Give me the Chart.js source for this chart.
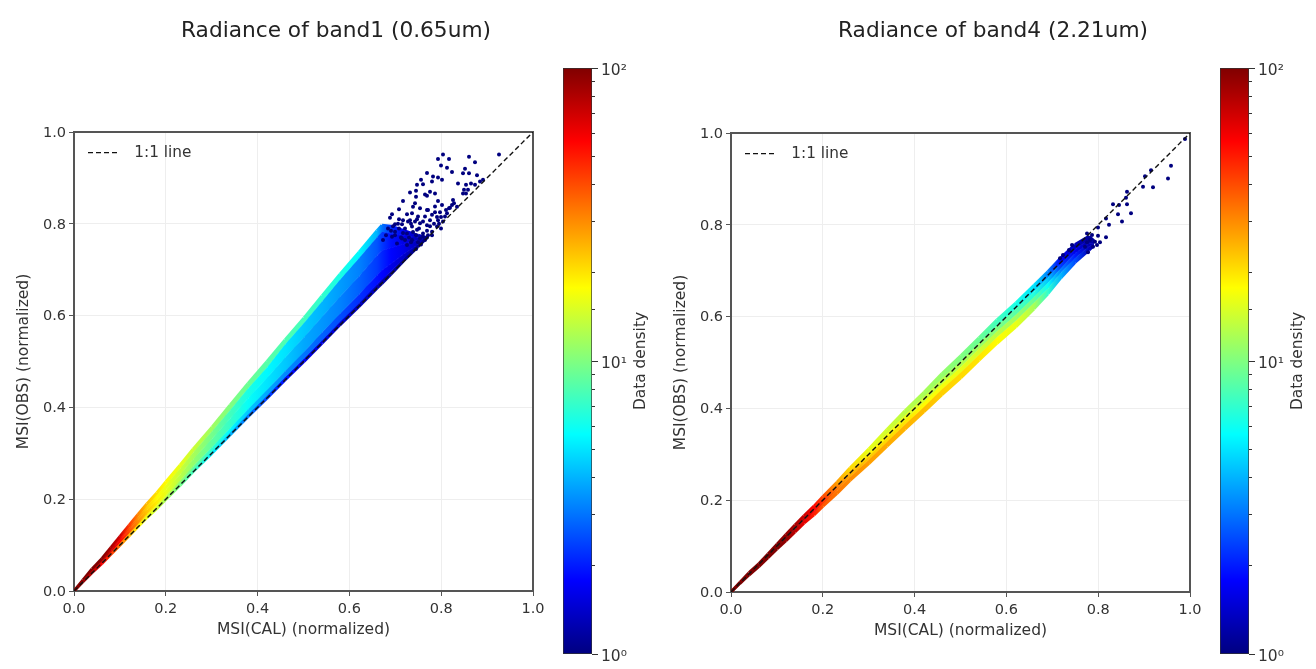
<!DOCTYPE html>
<html>
<head>
<meta charset="utf-8">
<title>MSI radiance scatter</title>
<script src="https://cdn.jsdelivr.net/npm/chart.js@4/dist/chart.umd.min.js"></script>
<style>
  html, body { margin: 0; padding: 0; background: #fff; overflow: hidden; }
  #page { position: relative; width: 1316px; height: 669px; }
  .box { position: absolute; }
</style>
</head>
<body>
<div id="page">
  <div class="box" style="left:0;top:0;width:672px;height:669px"><canvas id="band1"></canvas></div>
  <div class="box" style="left:670px;top:0;width:646px;height:669px"><canvas id="band4"></canvas></div>
  <div class="box" style="left:556px;top:50px;width:100px;height:620px"><canvas id="bar1"></canvas></div>
  <div class="box" style="left:1213px;top:50px;width:100px;height:620px"><canvas id="bar4"></canvas></div>
</div>
<script>
const axisTicks = [0, 0.2, 0.4, 0.6, 0.8, 1];
const barMajorTicks = [1, 10, 100];
const barTickLabels = ['10\u2070', '10\u00b9', '10\u00b2'];
const oneToOne = [{ x: 0, y: 0 }, { x: 1, y: 1 }];

// band1: dense part of the cloud, read as edges from the 1:1 side upward
const band1X = [0, .02, .04, .06, .08, .10, .12, .14, .16, .18, .20, .23, .26, .30, .34, .38, .42, .46, .50, .54, .58, .62, .66, .67, .69, .72, .75, .77];
const band1Edge0 = [0, .02, .04, .06, .08, .10, .12, .14, .16, .18, .20, .23, .26, .30, .34, .38, .42, .46, .50, .54, .58, .62, .66, .67, .69, .72, .75, .77];
const band1Edge1 = [0, .020, .040, .061, .081, .101, .121, .142, .162, .182, .202, .233, .263, .303, .344, .384, .425, .465, .506, .546, .586, .627, .667, .678, .696, .724, .752, .77];
const band1Edge2 = [0, .021, .042, .063, .083, .104, .125, .146, .167, .188, .208, .240, .271, .313, .354, .396, .438, .479, .521, .563, .604, .646, .688, .699, .713, .734, .755, .77];
const band1Edge3 = [0, .022, .044, .066, .088, .111, .133, .155, .177, .199, .221, .254, .287, .332, .376, .420, .464, .508, .553, .597, .641, .685, .731, .742, .748, .756, .764, .77];
const band1Edge4 = [0, .023, .046, .070, .093, .116, .139, .162, .186, .209, .232, .267, .302, .348, .394, .441, .487, .537, .584, .631, .678, .725, .771, .783, .779, .775, .771, .77];
const band1Edge5 = [0, .024, .048, .071, .095, .119, .143, .167, .190, .214, .238, .274, .309, .357, .405, .452, .500, .547, .595, .643, .690, .738, .785, .797, .795, .785, .775, .77];
// data density of each strip between two edges, one value per step along x
const band1Lane0 = [100, 91, 76, 58, 44, 33, 25, 19, 16, 14, 12, 9.5, 7.6, 5.2, 4, 3, 2.4, 1.9, 1.6, 1.5, 1.4, 1.3, 1.25, 1.2, 1.15, 1.1, 1.05];
const band1Lane1 = [100, 100, 91, 70, 56, 44, 33, 25, 19, 16, 14, 11, 9.1, 7, 5.5, 4.4, 3.8, 3.3, 3, 2.75, 2.5, 2.2, 1.9, 1.8, 1.6, 1.4, 1.2];
const band1Lane2 = [100, 100, 100, 87, 70, 56, 40, 30, 23, 19, 16, 13, 11, 8.7, 7.2, 5.8, 5, 4.4, 3.8, 3.5, 3.2, 2.75, 2.3, 2.1, 1.8, 1.6, 1.3];
const band1Lane3 = [100, 100, 100, 91, 76, 60, 40, 29, 22, 18, 16, 14, 12, 9.5, 7.6, 6.3, 5.5, 5, 4.4, 4, 3.6, 3.2, 2.6, 2.3, 1.9, 1.6, 1.3];
const band1Lane4 = [100, 100, 100, 100, 83, 70, 44, 31, 24, 20, 18, 16, 14, 11.5, 10, 9.1, 8.3, 8, 7.6, 7, 6.3, 5.5, 4, 3, 2.2, 1.7, 1.3];
// band1: single dots above the dense part
const band1SparseX = [.805, .794, .817, .860, .874, .927, .799, .812, .824, .770, .852, .847, .861, .877, .757, .748, .783, .792, .801, .779, .761, .837, .854, .866, .892, .885, .874, .850, .859, .848, .855, .733, .745, .776, .786, .770, .765, .745, .717, .743, .794, .826, .801, .823, .834, .816, .739, .754, .707, .692, .688, .725, .736, .770, .786, .797, .812, .717, .732, .750, .765, .776, .794, .808, .699, .714, .736, .754, .768, .790, .805, .685, .699, .725, .747, .761, .779, .692, .714, .736, .754, .768, .674, .703, .725, .750,
  .680, .690, .700, .708, .716, .722, .730, .738, .745, .752, .760, .768, .772, .780, .785, .795, .800, .810, .820, .828, .742, .727, .708, .760, .780, .800, .712, .735, .755, .745, .765, .775, .790, .705, .695, .722, .735, .748, .772, .786];
const band1SparseY = [.951, .941, .941, .946, .934, .951, .927, .922, .913, .911, .920, .910, .910, .906, .896, .885, .903, .901, .896, .892, .886, .888, .885, .888, .896, .892, .885, .874, .874, .866, .866, .868, .872, .870, .866, .861, .864, .859, .850, .845, .850, .852, .841, .841, .837, .834, .837, .834, .832, .821, .813, .821, .823, .830, .825, .825, .823, .808, .808, .816, .816, .808, .808, .816, .799, .799, .794, .801, .797, .794, .805, .790, .783, .779, .787, .779, .783, .772, .768, .765, .768, .770, .765, .757, .754, .760,
  .775, .785, .775, .790, .780, .790, .770, .782, .775, .790, .772, .785, .775, .775, .800, .800, .815, .830, .835, .845, .805, .805, .810, .805, .820, .790, .770, .760, .755, .745, .765, .795, .815, .800, .795, .765, .800, .810, .830, .838];

// band4
const band4X = [0, .02, .04, .06, .08, .10, .12, .14, .16, .18, .20, .23, .26, .30, .34, .38, .42, .46, .50, .54, .58, .62, .66, .69, .72, .75, .78, .79];
const band4Edge0 = [0, .019, .037, .056, .075, .094, .112, .131, .150, .168, .187, .215, .243, .280, .318, .355, .393, .430, .467, .505, .542, .578, .617, .650, .685, .718, .745, .755];
const band4Edge1 = [0, .019, .039, .058, .077, .096, .115, .135, .154, .173, .192, .221, .250, .288, .327, .365, .403, .442, .479, .517, .555, .591, .630, .662, .696, .728, .753, .758];
const band4Edge2 = [0, .020, .040, .059, .079, .099, .119, .138, .158, .178, .198, .227, .257, .296, .336, .375, .414, .453, .491, .530, .568, .604, .643, .674, .706, .738, .760, .760];
const band4Edge3 = [0, .020, .041, .061, .081, .101, .122, .142, .162, .183, .203, .233, .263, .304, .345, .385, .425, .465, .503, .542, .580, .617, .655, .686, .717, .747, .768, .763];
const band4Edge4 = [0, .021, .042, .062, .083, .104, .125, .146, .166, .187, .208, .239, .270, .312, .354, .395, .435, .476, .515, .554, .593, .630, .668, .698, .728, .757, .775, .765];
const band4Lane0 = [100, 100, 100, 100, 100, 100, 91, 76, 63, 50, 38, 33, 30, 27.5, 26, 25, 24, 22, 21, 20, 18, 16, 12, 7, 4, 2.5, 1.3];
const band4Lane1 = [100, 100, 100, 100, 100, 100, 100, 87, 70, 58, 44, 33, 26, 23, 21, 20, 18, 17, 16, 14.5, 13, 11.5, 9, 5.8, 3.2, 2, 1.25];
const band4Lane2 = [100, 100, 100, 100, 100, 100, 100, 91, 76, 60, 48, 32, 25, 19, 17.4, 16, 14.5, 13, 12.6, 11.5, 10, 8.3, 6.6, 4.4, 2.3, 1.6, 1.2];
const band4Lane3 = [100, 100, 100, 100, 100, 100, 91, 83, 70, 55, 40, 27.5, 21, 16, 14.5, 13, 12, 11, 10, 9.1, 7.6, 6.3, 5, 3.2, 1.7, 1.3, 1.15];
const band4SparseX = [.990, .958, .915, .903, .951, .898, .920, .863, .861, .833, .845, .862, .844, .871, .818, .824, .851, .799, .776, .786, .799, .816, .782, .793, .804, .776, .744, .771, .789, .797, .778, .737, .724, .717];
const band4SparseY = [.987, .929, .919, .906, .901, .883, .882, .872, .859, .845, .843, .845, .823, .825, .814, .800, .807, .794, .781, .778, .776, .773, .767, .763, .762, .762, .756, .752, .752, .756, .740, .745, .734, .727];

const textColor = '#333';
const frameColor = '#555';
const dotColor = '#00007f';
const fontName = '"DejaVu Sans"';

// matplotlib jet, fed with a 1..100 density on a log scale
function jet(density) {
  const t = Math.log10(density) / 2;
  const part = v => Math.round(255 * Math.min(1, Math.max(0, v)));
  return `rgb(${part(1.5 - Math.abs(4 * t - 3))},${part(1.5 - Math.abs(4 * t - 2))},${part(1.5 - Math.abs(4 * t - 1))})`;
}

function zipPoints(xs, ys) {
  return xs.map((x, i) => ({ x: x, y: ys[i] }));
}

// colour of one step of a strip, running from this station's density to the next one
function stepGradient(c, lane) {
  const i = c.p0DataIndex;
  const next = lane[i + 1] === undefined ? lane[i] : lane[i + 1];
  const g = c.chart.ctx.createLinearGradient(c.p0.x, 0, c.p1.x, 0);
  g.addColorStop(0, jet(lane[i]));
  g.addColorStop(1, jet(next));
  return g;
}

function laneDatasets(xs, edges, lanes) {
  return edges.map((edge, i) => {
    const lane = lanes[i] || lanes[i - 1];
    return {
      label: 'lane' + i,
      data: zipPoints(xs, edge),
      pointRadius: 0,
      borderWidth: (i === 0 || i === edges.length - 1) ? 3 : 1,
      fill: lanes[i] ? '+1' : false,
      segment: {
        backgroundColor: c => stepGradient(c, lane),
        borderColor: c => stepGradient(c, lane)
      }
    };
  });
}

// the filler clips every step to its x range, whole pixels keep the joins from showing
const snapStations = {
  id: 'snapStations',
  afterDatasetsUpdate(chart) {
    chart.getSortedVisibleDatasetMetas().forEach(meta => {
      meta.data.forEach(pt => { pt.x = Math.round(pt.x); });
    });
  }
};

function drawPanel(id, titleText, plotLeft, plotRight, plotBottom, yTitlePad, xs, edges, lanes, sparseX, sparseY) {
  const plotTop = plotBottom - 459;
  new Chart(document.getElementById(id), {
    type: 'line',
    data: {
      datasets: [
        { label: '1:1 line', data: oneToOne, borderColor: '#111', borderWidth: 1.4, borderDash: [5, 3], pointRadius: 0, fill: false },
        { label: 'sparse', data: zipPoints(sparseX, sparseY), showLine: false, pointRadius: 2, pointBorderWidth: 0, pointBackgroundColor: dotColor }
      ].concat(laneDatasets(xs, edges, lanes))
    },
    options: {
      responsive: true,
      maintainAspectRatio: false,
      animation: false,
      plugins: {
        title: {
          display: true,
          text: titleText,
          color: '#222',
          font: { family: fontName, size: 21.7, weight: 'normal', lineHeight: 1.2 },
          padding: { top: 18, bottom: plotTop - 18 - 26 }
        },
        legend: {
          position: 'chartArea',
          align: 'start',
          // the empty title only pushes the entry down into the plot
          title: { display: true, text: '', font: { size: 10, lineHeight: 1 }, padding: { top: 0, bottom: plotTop - 11 } },
          labels: {
            generateLabels: () => [{ text: '  1:1 line', strokeStyle: '#111', lineDash: [5, 3], lineWidth: 1.4, pointStyle: 'line', fillStyle: 'transparent', fontColor: textColor, datasetIndex: 0 }],
            usePointStyle: true,
            pointStyleWidth: 29,
            padding: 14,
            font: { family: fontName, size: 15.3 }
          }
        },
        tooltip: { enabled: false }
      },
      scales: {
        x: {
          type: 'linear',
          min: 0,
          max: 1,
          afterBuildTicks: scale => { scale.ticks = axisTicks.map(v => ({ value: v })); },
          afterFit: scale => { scale.height = 669 - plotBottom; },
          ticks: { color: textColor, padding: 5, maxRotation: 0, font: { family: fontName, size: 14.5 }, callback: v => v.toFixed(1) },
          grid: { color: '#eee', tickColor: frameColor, tickLength: 5 },
          border: { color: frameColor, width: 2 },
          title: { display: true, text: 'MSI(CAL) (normalized)', color: textColor, font: { family: fontName, size: 15.5 }, padding: { top: 0, bottom: 669 - plotBottom - 48 } }
        },
        y: {
          min: 0,
          max: 1,
          afterBuildTicks: scale => { scale.ticks = axisTicks.map(v => ({ value: v })); },
          afterFit: scale => { scale.width = plotLeft; },
          ticks: { color: textColor, padding: 3, labelOffset: 1, font: { family: fontName, size: 14.5 }, callback: v => v.toFixed(1) },
          grid: { color: '#eee', tickColor: frameColor, tickLength: 5 },
          border: { color: frameColor, width: 2 },
          title: { display: true, text: 'MSI(OBS) (normalized)', color: textColor, font: { family: fontName, size: 15.5 }, padding: { top: yTitlePad, bottom: 0 } }
        },
        // only there for the top and right spines
        xTop: {
          type: 'linear',
          position: 'top',
          afterFit: scale => { scale.height = 0; },
          ticks: { display: false },
          grid: { display: false },
          border: { color: frameColor, width: 2 }
        },
        yRight: {
          position: 'right',
          afterFit: scale => { scale.width = plotRight; },
          ticks: { display: false },
          grid: { display: false },
          border: { color: frameColor, width: 2 }
        }
      }
    },
    plugins: [snapStations]
  });
}

const densityLabel = {
  id: 'densityLabel',
  afterDraw(chart) {
    const ctx = chart.ctx;
    const area = chart.chartArea;
    ctx.save();
    ctx.translate(area.right + 49, (area.top + area.bottom) / 2);
    ctx.rotate(-Math.PI / 2);
    ctx.fillStyle = textColor;
    ctx.font = '15.4px ' + fontName;
    ctx.textAlign = 'center';
    ctx.textBaseline = 'middle';
    ctx.fillText('Data density', 0, 0);
    ctx.restore();
  }
};

function jetGradient(context) {
  const area = context.chart.chartArea;
  if (!area) return '#000';
  const g = context.chart.ctx.createLinearGradient(0, area.bottom, 0, area.top);
  for (let i = 0; i <= 32; i++) {
    g.addColorStop(i / 32, jet(Math.pow(100, i / 32)));
  }
  return g;
}

function drawColorbar(id) {
  new Chart(document.getElementById(id), {
    type: 'bar',
    data: {
      labels: ['density'],
      datasets: [{ data: [[1, 100]], backgroundColor: jetGradient, borderColor: '#333', borderWidth: 1, borderSkipped: false, barPercentage: 1, categoryPercentage: 1 }]
    },
    options: {
      responsive: true,
      maintainAspectRatio: false,
      animation: false,
      layout: { padding: { left: 7, top: 18, bottom: 16 } },
      plugins: { legend: { display: false }, tooltip: { enabled: false } },
      scales: {
        x: { display: false },
        yMinor: {
          type: 'logarithmic',
          position: 'right',
          min: 1,
          max: 100,
          afterFit: scale => { scale.width = 0; },
          ticks: { display: false },
          grid: { drawOnChartArea: false, tickColor: '#333', tickLength: 3 },
          border: { display: false }
        },
        y: {
          type: 'logarithmic',
          position: 'right',
          min: 1,
          max: 100,
          afterBuildTicks: scale => { scale.ticks = barMajorTicks.map(v => ({ value: v })); },
          afterFit: scale => { scale.width = 64; },
          ticks: { color: textColor, padding: 3, labelOffset: 3, font: { family: fontName, size: 15.5 }, callback: v => barTickLabels[barMajorTicks.indexOf(v)] },
          grid: { drawOnChartArea: false, tickColor: '#333', tickLength: 6 },
          border: { display: false }
        }
      }
    },
    plugins: [densityLabel]
  });
}

drawPanel('band1', 'Radiance of band1 (0.65um)', 74, 139, 591, 15, band1X,
  [band1Edge0, band1Edge1, band1Edge2, band1Edge3, band1Edge4, band1Edge5],
  [band1Lane0, band1Lane1, band1Lane2, band1Lane3, band1Lane4], band1SparseX, band1SparseY);
drawPanel('band4', 'Radiance of band4 (2.21um)', 61, 126, 592, 2, band4X,
  [band4Edge0, band4Edge1, band4Edge2, band4Edge3, band4Edge4],
  [band4Lane0, band4Lane1, band4Lane2, band4Lane3], band4SparseX, band4SparseY);
drawColorbar('bar1');
drawColorbar('bar4');
</script>
</body>
</html>
